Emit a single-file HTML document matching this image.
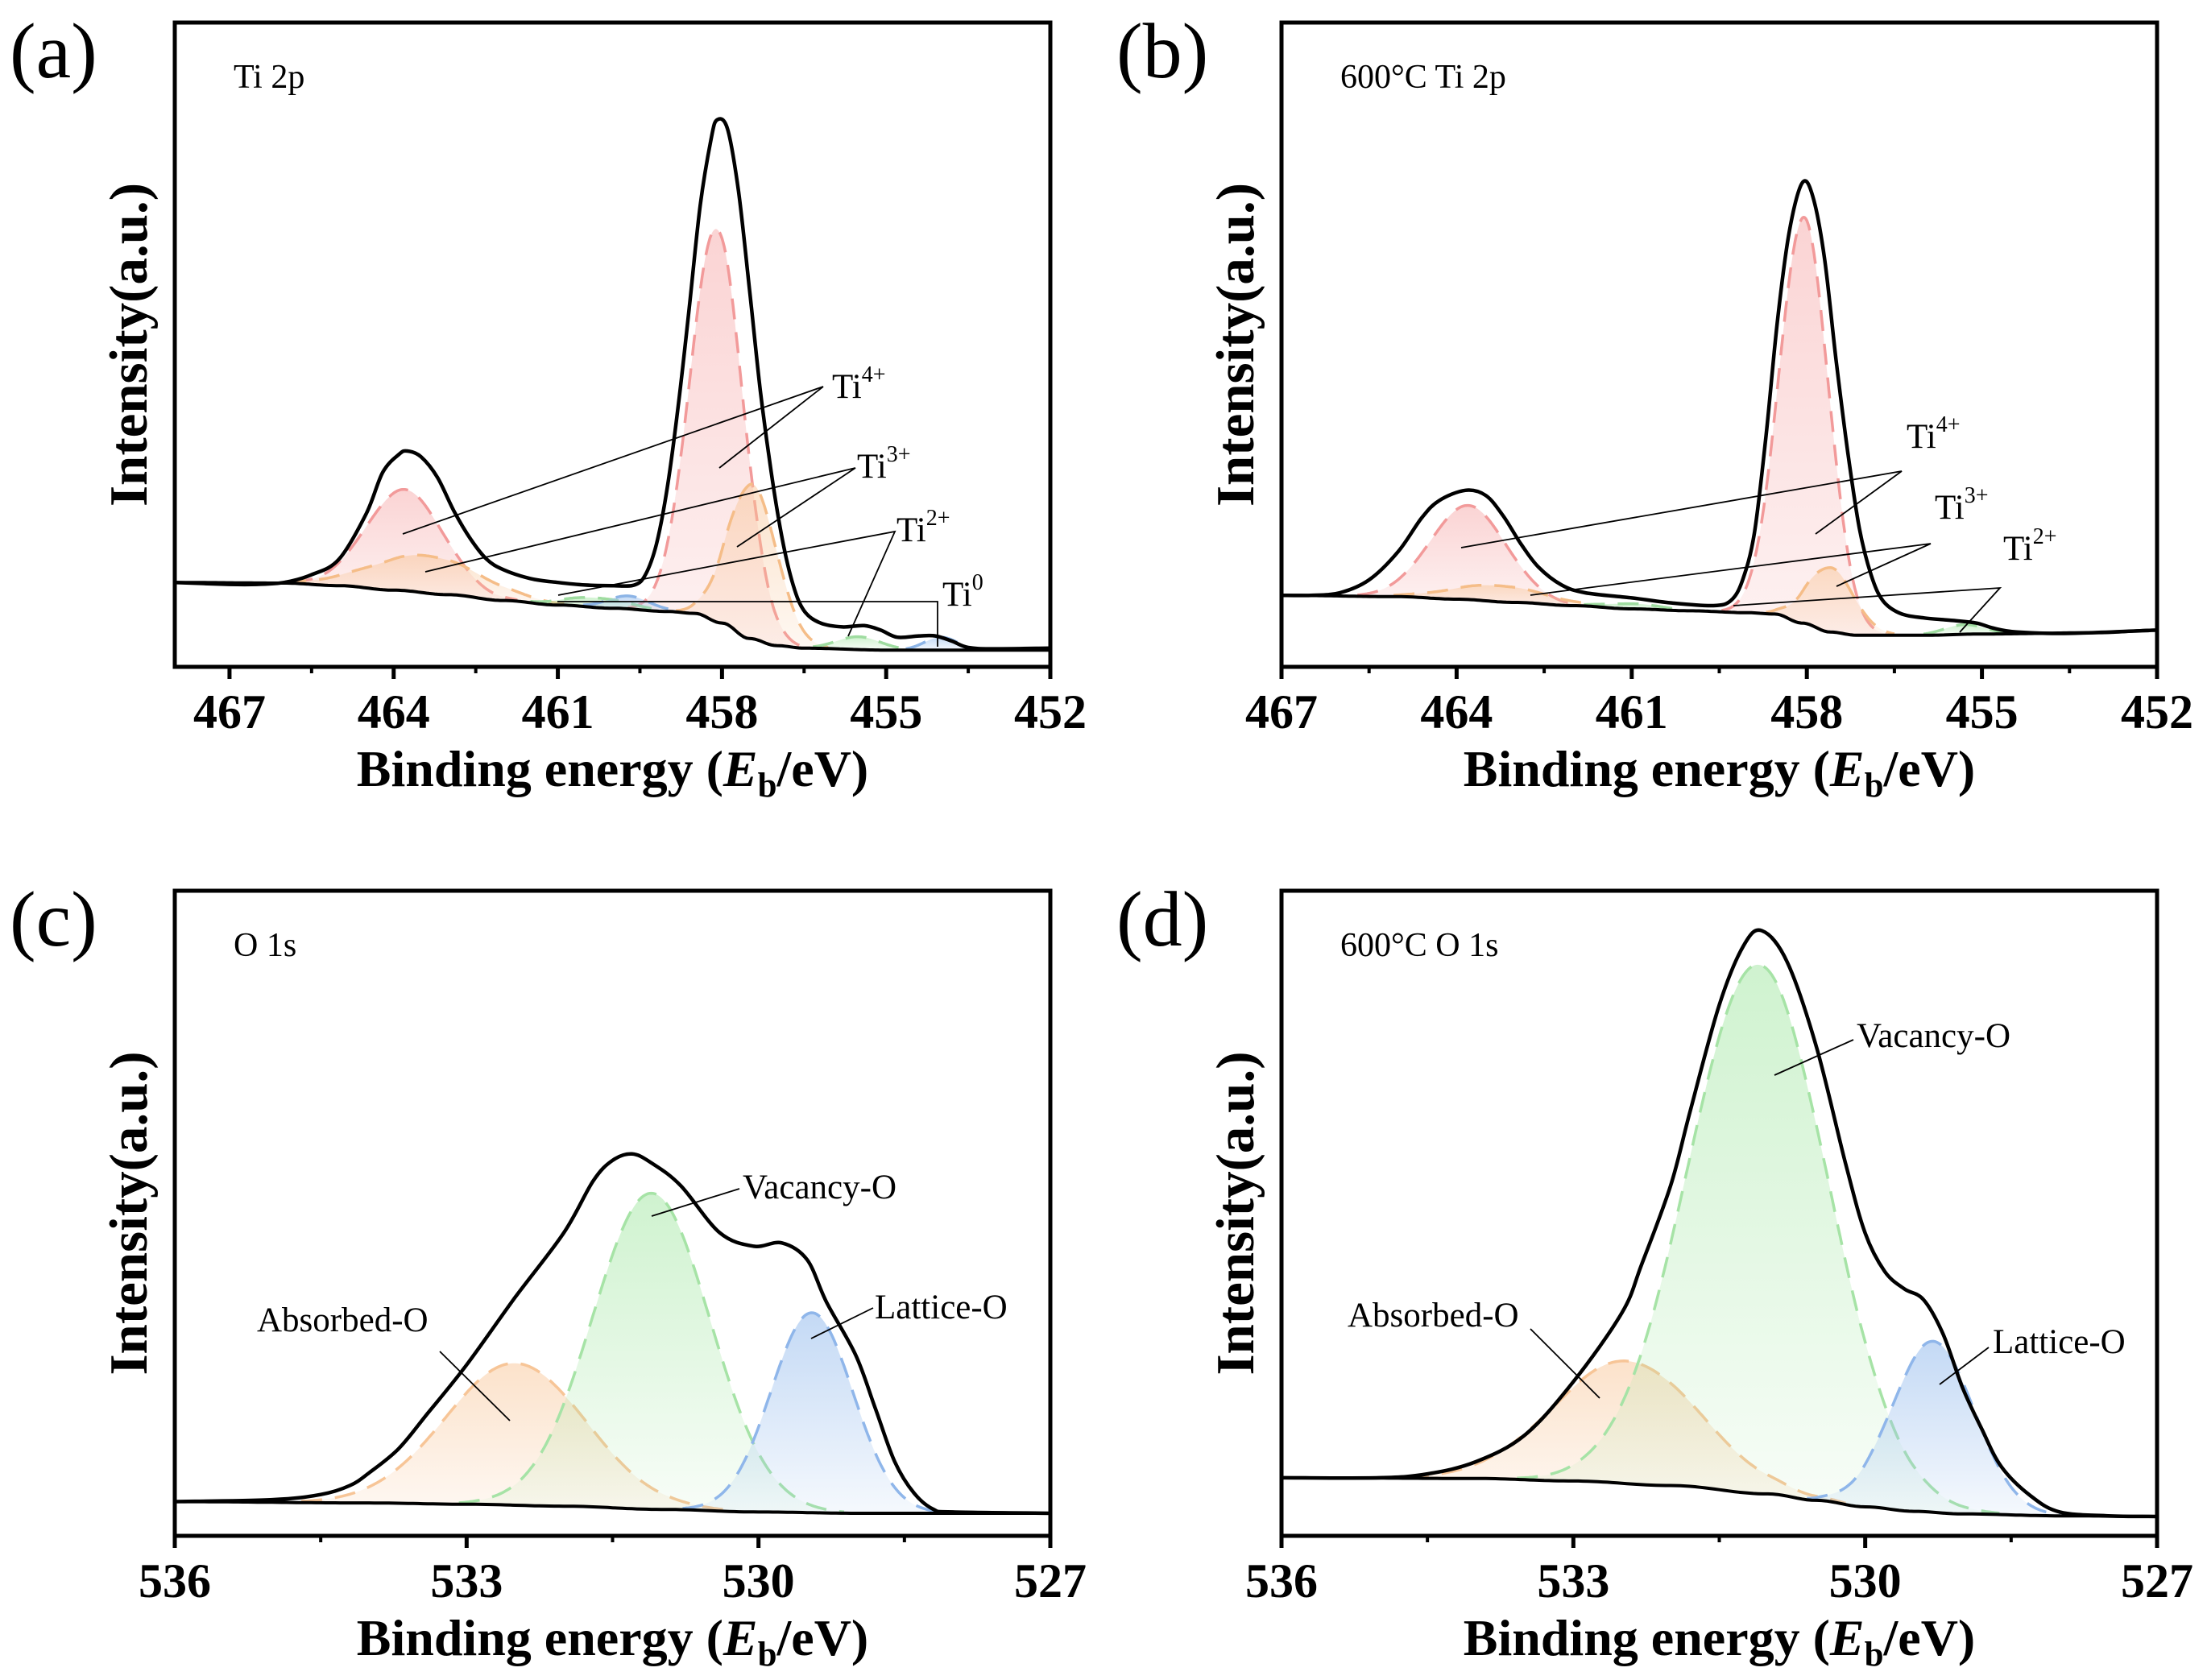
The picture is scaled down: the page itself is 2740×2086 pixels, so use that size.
<!DOCTYPE html>
<html><head><meta charset="utf-8"><title>XPS spectra</title>
<style>
html,body{margin:0;padding:0;background:#fff;}
svg{display:block;}
text{font-family:"Liberation Serif","Times New Roman",serif;}
</style></head>
<body>
<svg id="fig" xmlns="http://www.w3.org/2000/svg" width="2740" height="2086" viewBox="0 0 2740 2086">
<defs>
<linearGradient id="g-red" x1="0" y1="0" x2="0" y2="1"><stop offset="0" stop-color="#f6a8a8" stop-opacity="0.5"/><stop offset="1" stop-color="#f6a8a8" stop-opacity="0.15"/></linearGradient>
<linearGradient id="g-orange" x1="0" y1="0" x2="0" y2="1"><stop offset="0" stop-color="#f8c596" stop-opacity="0.5"/><stop offset="1" stop-color="#f8c596" stop-opacity="0.12"/></linearGradient>
<linearGradient id="g-green" x1="0" y1="0" x2="0" y2="1"><stop offset="0" stop-color="#a8e8a8" stop-opacity="0.55"/><stop offset="1" stop-color="#a8e8a8" stop-opacity="0.08"/></linearGradient>
<linearGradient id="g-blue" x1="0" y1="0" x2="0" y2="1"><stop offset="0" stop-color="#9cc0ee" stop-opacity="0.6"/><stop offset="1" stop-color="#9cc0ee" stop-opacity="0.1"/></linearGradient>
</defs>
</svg>
<script>
// ---------- Panel (a): Ti 2p ----------
const aEnvE = [468,467,466.5,466,465.5,465,464.5,464.2,463.9,463.75,463.5,463.2,462.9,462.6,462.3,462,461.5,461,460.5,460,459.6,459.4,459.2,459,458.8,458.6,458.4,458.2,458.09,457.9,457.7,457.5,457.3,457.1,456.9,456.7,456.5,456.2,455.8,455.4,455.1,454.8,454.4,454.1,453.8,453.5,453,452];
const aEnvI = [.131,.128,.128,.131,.143,.167,.238,.302,.33,.335,.326,.294,.242,.199,.167,.151,.137,.131,.127,.126,.127,.143,.19,.278,.405,.556,.715,.819,.849,.835,.739,.588,.429,.302,.199,.127,.087,.068,.062,.064,.057,.046,.048,.048,.04,.03,.028,.029];
const aBgE = [468,466,465,464,463,462,461,460,459,458.5,458,457.5,457,456.5,455,452];
const aBgI = [.131,.13,.126,.119,.112,.103,.096,.091,.086,.083,.068,.044,.033,.029,.026,.026];
const aCompNames = ["Ti4+","Ti4+","Ti3+","Ti3+","Ti2+","Ti2+","Ti0","Ti0"];
const aCompCenters = [458.1,463.8,457.45,463.4,460.3,455.5,459.7,454.0];
const aCompAmps = [.61,.157,.24,.058,.015,.02,.02,.02];
const aCompSigmas = [.48,.7,.45,1.0,.6,.4,.4,.3];
const tiTicks = [467,464,461,458,455,452];
const tiTickLabels = ["467","464","461","458","455","452"];
const tiMinor = [465.5,462.5,459.5,456.5,453.5];

// ---------- Panel (b): 600°C Ti 2p ----------
const bEnvE = [467,466.5,466,465.5,465,464.6,464.3,463.85,463.5,463.2,462.9,462.6,462.2,461.8,461,460.3,459.6,459.3,459.1,458.9,458.7,458.5,458.3,458.08,457.9,457.7,457.5,457.3,457.1,456.9,456.7,456.4,456,455.5,455.1,454.8,454.4,453.5,452];
const bEnvI = [.111,.111,.115,.135,.179,.231,.258,.274,.266,.234,.191,.155,.127,.115,.107,.099,.095,.103,.135,.207,.358,.54,.676,.751,.731,.636,.477,.334,.215,.143,.103,.083,.076,.072,.068,.06,.054,.052,.057];
const bBgE = [467,465,464,463,462,461,460,459,458.55,458.08,457.6,457.14,456,455,453,452];
const bBgI = [.111,.109,.105,.1,.095,.09,.087,.084,.082,.068,.054,.049,.049,.051,.053,.057];
const bCompNames = ["Ti4+","Ti4+","Ti3+","Ti3+","Ti2+","Ti2+"];
const bCompCenters = [458.05,463.8,457.6,463.3,455.3,461.0];
const bCompAmps = [.63,.146,.10,.025,.015,.008];
const bCompSigmas = [.42,.65,.4,.8,.35,.5];

// ---------- Panel (c): O 1s ----------
const cEnvE = [536,535,534.5,534.2,534,533.7,533.4,533,532.5,532,531.7,531.5,531.3,531.1,530.8,530.4,530.05,529.76,529.5,529.3,529,528.8,528.6,528.4,528.2,528,527];
const cEnvI = [.053,.056,.064,.078,.098,.135,.19,.265,.37,.47,.55,.582,.592,.578,.543,.47,.449,.454,.428,.362,.28,.198,.115,.066,.041,.037,.035];
const cBgE = [536,534,533,532,531,530,529,527];
const cBgI = [.053,.051,.049,.046,.041,.037,.035,.035];
const cCompNames = ["Absorbed-O","Vacancy-O","Lattice-O"];
const cCompCenters = [532.5,531.1,529.45];
const cCompAmps = [.22,.49,.31];
const cCompSigmas = [.72,.6,.42];
const oTicks = [536,533,530,527];
const oTickLabels = ["536","533","530","527"];
const oMinor = [534.5,531.5,528.5];

// ---------- Panel (d): 600°C O 1s ----------
const dEnvE = [536,535,534.5,534,533.5,533,532.5,532.3,532,531.8,531.5,531.25,531.06,530.8,530.5,530.2,530,529.8,529.6,529.4,529.2,529,528.8,528.6,528.3,528,527.5,527];
const dEnvI = [.09,.09,.096,.115,.156,.239,.346,.42,.543,.658,.823,.915,.938,.889,.757,.576,.469,.41,.383,.366,.313,.23,.165,.107,.062,.037,.031,.03];
const dBgE = [536,534,533,532,531,530.5,530,529.5,529,528,527];
const dBgI = [.09,.089,.085,.078,.065,.055,.045,.038,.034,.031,.03];
const dCompNames = ["Absorbed-O","Vacancy-O","Lattice-O"];
const dCompCenters = [532.45,531.1,529.3];
const dCompAmps = [.19,.82,.265];
const dCompSigmas = [.75,.72,.42];

const NS = "http://www.w3.org/2000/svg";
const svg = document.getElementById("fig");
const STYLE = {
  "Ti4+": {stroke:"#f29a9a", fill:"url(#g-red)"},
  "Ti3+": {stroke:"#f5bd88", fill:"url(#g-orange)"},
  "Ti2+": {stroke:"#9fdca0", fill:"url(#g-green)"},
  "Ti0":  {stroke:"#8cb4e6", fill:"url(#g-blue)"},
  "Absorbed-O": {stroke:"#f7c597", fill:"url(#g-orange)"},
  "Vacancy-O": {stroke:"#a6e3a6", fill:"url(#g-green)"},
  "Lattice-O": {stroke:"#8fb6ea", fill:"url(#g-blue)"}
};

function mk(tag, attrs, parent){
  const el = document.createElementNS(NS, tag);
  for (const k in attrs) el.setAttribute(k, attrs[k]);
  (parent||svg).appendChild(el);
  return el;
}
function interp(E, I, e){
  if (e >= E[0]) return I[0];
  if (e <= E[E.length-1]) return I[I.length-1];
  for (let i=0;i<E.length-1;i++){
    if (e <= E[i] && e >= E[i+1]){
      const t = (E[i]-e)/(E[i]-E[i+1]);
      const s = (1-Math.cos(Math.PI*t))/2;
      return I[i] + (I[i+1]-I[i])*s;
    }
  }
  return I[I.length-1];
}
function smoothPath(pts){
  let d = "M"+pts[0][0].toFixed(1)+","+pts[0][1].toFixed(1);
  for (let i=0;i<pts.length-1;i++){
    const p0 = pts[Math.max(0,i-1)], p1 = pts[i], p2 = pts[i+1], p3 = pts[Math.min(pts.length-1,i+2)];
    const c1x = p1[0]+(p2[0]-p0[0])/6, c1y = p1[1]+(p2[1]-p0[1])/6;
    const c2x = p2[0]-(p3[0]-p1[0])/6, c2y = p2[1]-(p3[1]-p1[1])/6;
    d += " C"+c1x.toFixed(1)+","+c1y.toFixed(1)+" "+c2x.toFixed(1)+","+c2y.toFixed(1)+" "+p2[0].toFixed(1)+","+p2[1].toFixed(1);
  }
  return d;
}

function drawPanel(P){
  const g = mk("g", {});
  
  
  const X = e => P.x0 + (P.xMin - e)/(P.xMin - P.xMax)*(P.x1-P.x0);
  const Y = v => P.y1 - v*(P.y1-P.y0);
  const clipId = "clip-"+P.id;
  const cp = mk("clipPath", {id:clipId}, g);
  mk("rect", {x:P.x0, y:P.y0, width:P.x1-P.x0, height:P.y1-P.y0}, cp);
  const plot = mk("g", {"clip-path":"url(#"+clipId+")"}, g);
  
  

  for (let k=0;k<P.centers.length;k++){
    const st = STYLE[P.names[k]];
    const top = [], base = [];
    for (let e=P.xMin; e>=P.xMax-1e-9; e-=0.02){
      const gv = P.amps[k]*Math.exp(-Math.pow(e-P.centers[k],2)/(2*P.sigmas[k]*P.sigmas[k]));
      if (gv < 0.002) continue;
      const b = interp(P.bgE, P.bgI, e);
      top.push([X(e), Y(b+gv)]);
      base.push([X(e), Y(b)]);
    }
    if (top.length < 2) continue;
    let fd = "M"+top.map(p=>p[0].toFixed(1)+","+p[1].toFixed(1)).join(" L");
    fd += " L"+base.slice().reverse().map(p=>p[0].toFixed(1)+","+p[1].toFixed(1)).join(" L")+" Z";
    const f = mk("path", {d:fd, fill:st.fill, stroke:"none"}, plot);
    
    
    const l = mk("path", {d:"M"+top.map(p=>p[0].toFixed(1)+","+p[1].toFixed(1)).join(" L"), fill:"none", stroke:st.stroke, "stroke-width":3.5, "stroke-dasharray":"26 16"}, plot);
    
    
  }
  const bgPts = [];
  for (let e=P.xMin; e>=P.xMax-1e-9; e-=0.05) bgPts.push([X(e), Y(interp(P.bgE,P.bgI,e))]);
  const bgl = mk("path", {d:"M"+bgPts.map(p=>p[0].toFixed(1)+","+p[1].toFixed(1)).join(" L"), fill:"none", stroke:"#000", "stroke-width":4}, plot);
  
  
  const envPts = P.envE.map((e,i)=>[X(e), Y(P.envI[i])]);
  const env = mk("path", {d:smoothPath(envPts), fill:"none", stroke:"#000", "stroke-width":4.5, "stroke-linejoin":"round"}, plot);
  
  

  const fr = mk("rect", {x:P.x0, y:P.y0, width:P.x1-P.x0, height:P.y1-P.y0, fill:"none", stroke:"#000", "stroke-width":5}, g);
  
  
  P.ticks.forEach((t,i)=>{
    const tk = mk("line", {x1:X(t), x2:X(t), y1:P.y1, y2:P.y1+15, stroke:"#000", "stroke-width":5}, g);
    
    
    const tl = mk("text", {x:X(t), y:P.y1+76, "text-anchor":"middle", "font-size":60, "font-weight":"bold"}, g);
    tl.textContent = P.tickLabels[i];
    
    
  });
  P.minor.forEach(t=>{
    const mt = mk("line", {x1:X(t), x2:X(t), y1:P.y1, y2:P.y1+8, stroke:"#000", "stroke-width":4}, g);
    
    
  });
  const cx = (P.x0+P.x1)/2;
  const xt = mk("text", {x:cx, y:P.y1+148, "text-anchor":"middle", "font-size":64, "font-weight":"bold"}, g);
  xt.innerHTML = 'Binding energy (<tspan font-style="italic">E</tspan><tspan font-size="43" dy="13">b</tspan><tspan dy="-13">/eV)</tspan>';
  
  
  const yx = P.x0-35, yy = (P.y0+P.y1)/2;
  const yt = mk("text", {x:yx, y:yy, "text-anchor":"middle", "font-size":67, "font-weight":"bold", transform:"rotate(-90 "+yx+" "+yy+")"}, g);
  yt.textContent = "Intensity(a.u.)";
  
  
  const pl = mk("text", {x:P.x0-205, y:P.y0+68, "font-size":98}, g);
  pl.textContent = P.letter;
  
  
  const it = mk("text", {x:P.x0+73, y:P.y0+81, "font-size":42}, g);
  it.textContent = P.title;
  
  
  P.labels.forEach(L=>{
    const t = mk("text", {x:L.x, y:L.y, "font-size":43}, g);
    if (L.sup){ t.innerHTML = L.text+'<tspan font-size="28" dy="-20">'+L.sup+'</tspan>'; }
    else t.textContent = L.text;
    
    
    L.lines.forEach(s=>{
      const ln = mk("polyline", {points:s.map(p=>p.join(",")).join(" "), fill:"none", stroke:"#000", "stroke-width":1.8}, g);
      
      
    });
  });
}

drawPanel({id:"a", name:"panel-a-ti2p", letter:"(a)", title:"Ti 2p", x0:217,x1:1304,y0:28,y1:828, xMin:468,xMax:452,
  ticks:tiTicks, tickLabels:tiTickLabels, minor:tiMinor,
  envE:aEnvE, envI:aEnvI, bgE:aBgE, bgI:aBgI, names:aCompNames, centers:aCompCenters, amps:aCompAmps, sigmas:aCompSigmas,
  labels:[
    {text:"Ti", sup:"4+", x:1033, y:494, lines:[[[500,663],[1022,480],[893,581]]]},
    {text:"Ti", sup:"3+", x:1064, y:593, lines:[[[528,710],[1062,581],[915,679]]]},
    {text:"Ti", sup:"2+", x:1113, y:672, lines:[[[693,739],[1111,660],[1053,790]]]},
    {text:"Ti", sup:"0", x:1170, y:752, lines:[[[692,747],[1164,747],[1164,803]]]}
  ]});
drawPanel({id:"b", name:"panel-b-600c-ti2p", letter:"(b)", title:"600°C Ti 2p", x0:1591,x1:2678,y0:28,y1:828, xMin:467,xMax:452,
  ticks:tiTicks, tickLabels:tiTickLabels, minor:tiMinor,
  envE:bEnvE, envI:bEnvI, bgE:bBgE, bgI:bBgI, names:bCompNames, centers:bCompCenters, amps:bCompAmps, sigmas:bCompSigmas,
  labels:[
    {text:"Ti", sup:"4+", x:2367, y:556, lines:[[[1814,680],[2361,585],[2254,663]]]},
    {text:"Ti", sup:"3+", x:2402, y:644, lines:[[[1900,739],[2397,675],[2280,728]]]},
    {text:"Ti", sup:"2+", x:2487, y:695, lines:[[[2152,752],[2483,730],[2433,785]]]}
  ]});
drawPanel({id:"c", name:"panel-c-o1s", letter:"(c)", title:"O 1s", x0:217,x1:1304,y0:1106,y1:1907, xMin:536,xMax:527,
  ticks:oTicks, tickLabels:oTickLabels, minor:oMinor,
  envE:cEnvE, envI:cEnvI, bgE:cBgE, bgI:cBgI, names:cCompNames, centers:cCompCenters, amps:cCompAmps, sigmas:cCompSigmas,
  labels:[
    {text:"Vacancy-O", x:922, y:1488, lines:[[[918,1476],[809,1510]]]},
    {text:"Lattice-O", x:1086, y:1637, lines:[[[1084,1624],[1007,1662]]]},
    {text:"Absorbed-O", x:319, y:1653, lines:[[[546,1678],[633,1764]]]}
  ]});
drawPanel({id:"d", name:"panel-d-600c-o1s", letter:"(d)", title:"600°C O 1s", x0:1591,x1:2678,y0:1106,y1:1907, xMin:536,xMax:527,
  ticks:oTicks, tickLabels:oTickLabels, minor:oMinor,
  envE:dEnvE, envI:dEnvI, bgE:dBgE, bgI:dBgI, names:dCompNames, centers:dCompCenters, amps:dCompAmps, sigmas:dCompSigmas,
  labels:[
    {text:"Vacancy-O", x:2305, y:1300, lines:[[[2301,1291],[2203,1335]]]},
    {text:"Lattice-O", x:2474, y:1680, lines:[[[2469,1673],[2408,1719]]]},
    {text:"Absorbed-O", x:1673, y:1647, lines:[[[1900,1650],[1986,1736]]]}
  ]});
</script>
</body></html>
